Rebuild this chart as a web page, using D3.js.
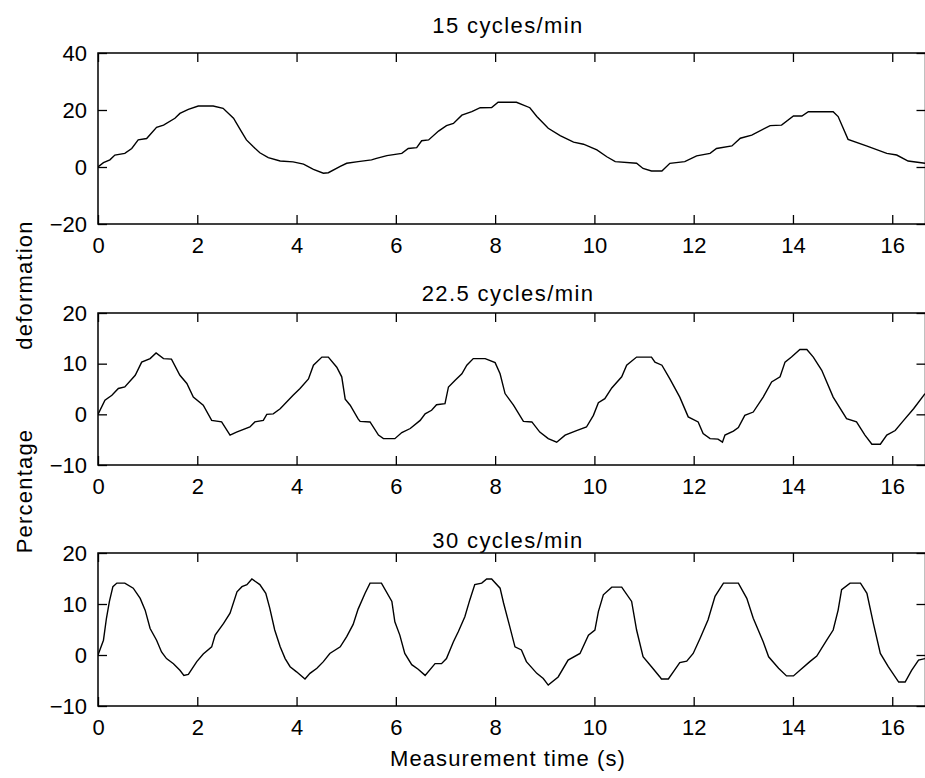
<!DOCTYPE html>
<html><head><meta charset="utf-8">
<script src="https://cdn.jsdelivr.net/npm/d3@7"></script>
<style>
body{margin:0;background:#fff}
svg text{font-family:"Liberation Sans",Arial,sans-serif;fill:#000}
</style>
</head><body>
<svg id="chart" width="925" height="778"></svg>
<script>
// ---------- data (time s, percentage deformation) ----------
const xTickValues = [0, 2, 4, 6, 8, 10, 12, 14, 16];
const titles = ["15 cycles/min", "22.5 cycles/min", "30 cycles/min"];
const yTicksTop = [-20, 0, 20, 40];
const yTicksLower = [-10, 0, 10, 20];

const series15 = [[0,0],[0.11,1.5],[0.24,2.5],[0.34,4.2],[0.54,4.8],[0.68,6.5],[0.81,9.5],[0.98,10],[1.18,13.9],[1.32,14.7],[1.55,17.1],[1.65,18.8],[1.82,20.2],[2.02,21.4],[2.32,21.4],[2.52,20.6],[2.73,17.1],[2.89,12.4],[2.99,9.5],[3.13,7.1],[3.26,5.0],[3.43,3.3],[3.67,2.1],[3.93,1.8],[4.14,1.0],[4.34,-0.8],[4.54,-2.2],[4.64,-2.0],[4.88,0.2],[5.01,1.3],[5.24,1.9],[5.51,2.5],[5.61,3.0],[5.82,4.0],[6.12,4.8],[6.25,6.5],[6.42,6.8],[6.52,9.2],[6.66,9.5],[6.86,12.6],[7.02,14.5],[7.16,15.3],[7.33,18.2],[7.53,19.4],[7.70,20.8],[7.93,20.9],[8.06,22.7],[8.43,22.7],[8.70,20.8],[8.84,17.7],[9.07,13.6],[9.31,11.0],[9.58,8.7],[9.78,8.0],[10.05,6.0],[10.25,3.6],[10.42,1.9],[10.85,1.3],[10.98,-0.5],[11.15,-1.4],[11.36,-1.4],[11.52,1.3],[11.82,1.9],[12.06,3.9],[12.33,4.8],[12.46,6.5],[12.77,7.4],[12.94,10.1],[13.17,11.2],[13.54,14.5],[13.77,14.7],[14.01,17.9],[14.18,17.9],[14.31,19.4],[14.81,19.4],[14.91,17.7],[15.11,9.7],[15.48,7.4],[15.89,4.8],[16.09,4.2],[16.32,2.1],[16.66,1.3]];

const series22 = [[0,0],[0.14,2.8],[0.28,3.75],[0.41,5.1],[0.54,5.4],[0.75,7.7],[0.88,10.3],[1.05,11.0],[1.17,12.1],[1.32,11.0],[1.48,10.9],[1.65,7.7],[1.79,6.1],[1.92,3.4],[2.12,1.8],[2.29,-1.2],[2.49,-1.5],[2.66,-4.1],[2.79,-3.5],[3.06,-2.5],[3.16,-1.5],[3.33,-1.2],[3.40,0],[3.53,0.1],[3.67,1.1],[3.93,3.75],[4.07,5.1],[4.24,7.0],[4.34,9.7],[4.51,11.3],[4.64,11.3],[4.81,9.3],[4.91,7.4],[4.98,3.0],[5.08,1.8],[5.24,-0.9],[5.28,-1.4],[5.48,-1.5],[5.65,-4.1],[5.75,-4.8],[5.98,-4.8],[6.12,-3.6],[6.29,-2.8],[6.49,-1.2],[6.59,0.1],[6.72,0.8],[6.82,1.9],[6.99,2.1],[7.06,5.4],[7.19,6.7],[7.33,8.0],[7.43,9.7],[7.56,11.0],[7.80,11.0],[8.00,10.2],[8.10,8.0],[8.20,4.1],[8.37,1.8],[8.57,-1.4],[8.74,-1.5],[8.90,-3.5],[9.07,-4.8],[9.24,-5.5],[9.41,-4.1],[9.64,-3.2],[9.84,-2.5],[9.98,-0.2],[10.08,2.3],[10.21,3.1],[10.35,5.2],[10.55,7.4],[10.65,9.7],[10.85,11.3],[11.15,11.3],[11.22,10.3],[11.36,9.7],[11.52,7.0],[11.72,3.4],[11.89,-0.5],[12.09,-1.5],[12.19,-3.8],[12.33,-4.8],[12.49,-4.9],[12.58,-5.5],[12.63,-4.1],[12.80,-3.3],[12.90,-2.6],[13.03,-0.2],[13.20,0.45],[13.40,3.4],[13.57,6.4],[13.74,7.4],[13.84,10.3],[13.97,11.3],[14.14,12.8],[14.28,12.8],[14.41,11.3],[14.58,8.7],[14.81,3.4],[15.08,-0.85],[15.28,-1.5],[15.45,-4.1],[15.59,-5.9],[15.76,-5.9],[15.89,-4.1],[16.06,-3.2],[16.23,-1.2],[16.43,1.1],[16.66,4.1]];

const series30 = [[0,0],[0.11,2.9],[0.17,7.2],[0.23,10.5],[0.30,13.4],[0.38,14.1],[0.54,14.1],[0.71,13.1],[0.85,11.1],[0.95,8.8],[1.05,5.2],[1.18,2.9],[1.28,0.6],[1.38,-0.7],[1.52,-1.7],[1.65,-3.0],[1.73,-4.0],[1.82,-3.8],[1.99,-1.3],[2.12,0.2],[2.29,1.6],[2.36,3.9],[2.53,6.2],[2.66,8.2],[2.80,12.4],[2.90,13.4],[3.00,13.8],[3.10,14.9],[3.26,13.8],[3.38,12.1],[3.46,9.2],[3.56,4.9],[3.67,1.6],[3.77,-0.7],[3.87,-2.3],[4.00,-3.3],[4.17,-4.7],[4.27,-3.6],[4.41,-2.6],[4.54,-1.3],[4.67,0.3],[4.88,1.6],[5.01,3.6],[5.14,6.0],[5.24,9.0],[5.38,12.1],[5.48,14.1],[5.71,14.1],[5.92,10.5],[5.98,6.5],[6.08,3.9],[6.18,0.3],[6.32,-1.9],[6.45,-2.8],[6.59,-4.0],[6.79,-1.7],[6.92,-1.7],[7.02,-0.7],[7.16,2.6],[7.26,4.6],[7.39,7.5],[7.49,10.8],[7.59,13.8],[7.73,14.1],[7.83,14.9],[7.93,14.9],[8.10,13.1],[8.17,10.2],[8.27,6.5],[8.40,1.6],[8.53,1.0],[8.63,-1.3],[8.84,-3.6],[8.97,-4.6],[9.07,-5.9],[9.27,-4.3],[9.47,-1.0],[9.71,0.3],[9.88,3.9],[10.01,4.9],[10.08,8.5],[10.18,11.8],[10.35,13.3],[10.55,13.3],[10.75,10.5],[10.85,4.9],[10.98,-0.35],[11.15,-2.3],[11.32,-4.3],[11.35,-4.7],[11.49,-4.7],[11.59,-3.3],[11.72,-1.5],[11.86,-1.2],[11.99,0.3],[12.13,3.3],[12.29,6.9],[12.43,11.5],[12.60,14.1],[12.90,14.1],[13.07,11.1],[13.20,7.2],[13.40,2.6],[13.51,-0.35],[13.71,-2.6],[13.87,-4.1],[14.01,-4.1],[14.14,-3.0],[14.34,-1.3],[14.48,-0.2],[14.68,2.9],[14.81,4.9],[14.91,8.8],[14.98,12.8],[15.15,14.1],[15.36,14.1],[15.49,12.1],[15.62,6.2],[15.76,0.3],[15.92,-2.3],[16.13,-5.3],[16.26,-5.3],[16.39,-3.0],[16.53,-1.0],[16.66,-0.7]];

const yLabelWords = ["deformation", "Percentage"];
const xLabel = "Measurement time (s)";

// ---------- layout ----------
const svg = d3.select("#chart");
const left = 98, right = 925.5;
const x = d3.scaleLinear().domain([0, 16.67]).range([left, right]);
const FS = 22;

const panels = [
  {title: titles[0], data: series15, yDomain: [-20, 40], yTicks: yTicksTop, top: 53, bottom: 224, titleY: 33},
  {title: titles[1], data: series22, yDomain: [-10, 20], yTicks: yTicksLower, top: 313, bottom: 465, titleY: 301},
  {title: titles[2], data: series30, yDomain: [-10, 20], yTicks: yTicksLower, top: 553, bottom: 706, titleY: 548}
];

panels.forEach((p, i) => {
  const y = d3.scaleLinear().domain(p.yDomain).range([p.bottom, p.top]);
  const g = svg.append("g");
  const id = "clip" + i;
  svg.append("clipPath").attr("id", id).append("rect")
    .attr("x", left).attr("y", p.top).attr("width", right - left).attr("height", p.bottom - p.top);

  // axes
  const styleAxis = sel => {
    sel.select(".domain").remove();
    sel.selectAll(".tick line").attr("stroke", "#000").attr("stroke-width", 1.3);
    sel.selectAll("text").style("font-size", FS + "px").attr("fill", "#000");
  };
  g.append("g").attr("transform", `translate(0,${p.bottom})`)
    .call(d3.axisBottom(x).tickValues(xTickValues).tickSize(-9).tickPadding(13).tickFormat(d3.format("d")))
    .call(styleAxis);
  g.append("g").attr("transform", `translate(0,${p.top})`)
    .call(d3.axisTop(x).tickValues(xTickValues).tickSize(-9).tickFormat(""))
    .call(styleAxis);
  g.append("g").attr("transform", `translate(${left},0)`)
    .call(d3.axisLeft(y).tickValues(p.yTicks).tickSize(-9).tickPadding(11).tickFormat(d3.format("d")))
    .call(styleAxis);
  g.append("g").attr("transform", `translate(${right},0)`)
    .call(d3.axisRight(y).tickValues(p.yTicks).tickSize(-9).tickFormat(""))
    .call(styleAxis);

  g.append("rect").attr("x", left).attr("y", p.top).attr("width", right - left).attr("height", p.bottom - p.top)
    .attr("fill", "none").attr("stroke", "#000").attr("stroke-width", 1.5);

  g.append("path").datum(p.data)
    .attr("clip-path", `url(#${id})`)
    .attr("fill", "none").attr("stroke", "#000").attr("stroke-width", 1.4)
    .attr("d", d3.line().x(d => x(d[0])).y(d => y(d[1])));

  svg.append("text").attr("x", 508).attr("y", p.titleY).attr("text-anchor", "middle")
    .style("font-size", FS + "px").style("letter-spacing", "1.4px").text(p.title);
});

svg.append("text").attr("x", 508).attr("y", 766).attr("text-anchor", "middle")
  .style("font-size", FS + "px").style("letter-spacing", "1.1px").text(xLabel);

svg.append("text").attr("transform", "translate(32,285) rotate(-90)").attr("text-anchor", "middle")
  .style("font-size", FS + "px").style("letter-spacing", "1.2px").text(yLabelWords[0]);
svg.append("text").attr("transform", "translate(32,491) rotate(-90)").attr("text-anchor", "middle")
  .style("font-size", FS + "px").style("letter-spacing", "1.2px").text(yLabelWords[1]);
</script>
</body></html>
